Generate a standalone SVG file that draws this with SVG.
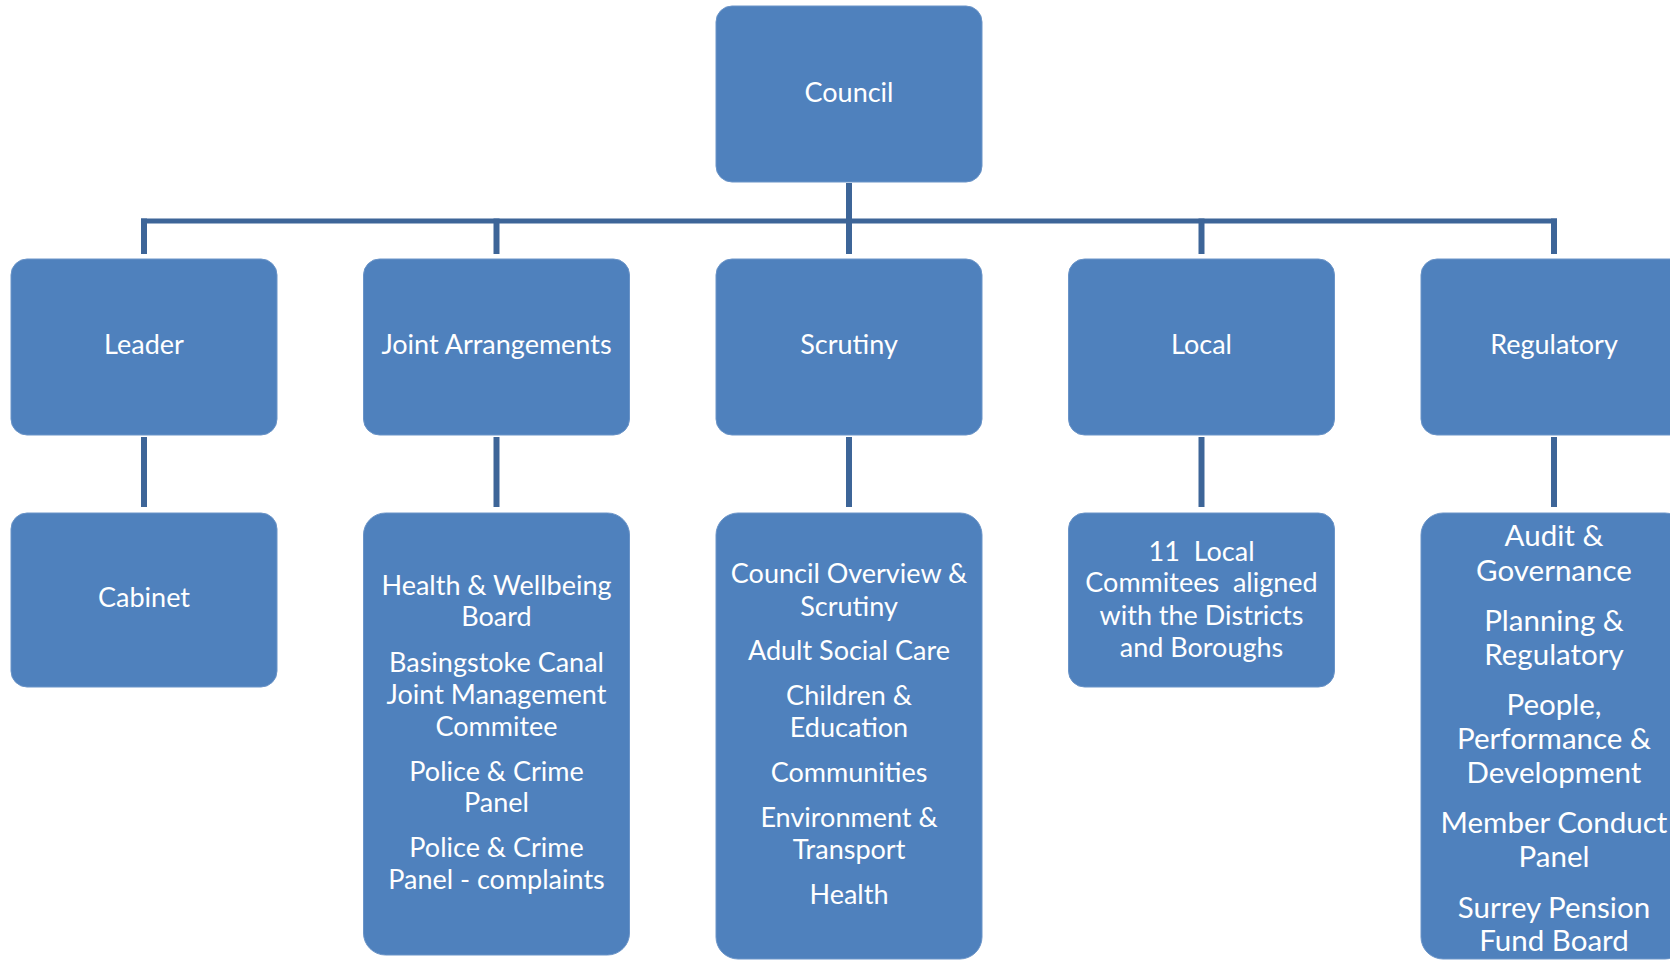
<svg xmlns="http://www.w3.org/2000/svg" width="1670" height="960" viewBox="0 0 1670 960">
  <style>
    .box { fill: #4F81BD; stroke: #6A94C8; stroke-width: 1; }
    .lbl { font-family: Lato, "Open Sans", sans-serif; font-size: 27px; fill: #FFFFFF; text-anchor: middle; white-space: pre; }
    .big { font-size: 29.5px; }
    .wire { stroke: #3D6598; fill: none; }
    .bus { stroke-width: 5; }
    .drop { stroke-width: 6; }
  </style>
  <rect width="1670" height="960" fill="#FFFFFF"/>

  <!-- connectors -->
  <g id="connectors" class="wire">
    <line class="bus" x1="141" y1="221" x2="1557" y2="221"/>
    <line class="drop" x1="849" y1="183" x2="849" y2="254"/>
    <line class="drop" x1="144" y1="218.5" x2="144" y2="254"/>
    <line class="drop" x1="496.5" y1="218.5" x2="496.5" y2="254"/>
    <line class="drop" x1="1201.5" y1="218.5" x2="1201.5" y2="254"/>
    <line class="drop" x1="1554" y1="218.5" x2="1554" y2="254"/>
    <line class="drop" x1="144" y1="437" x2="144" y2="507"/>
    <line class="drop" x1="496.5" y1="437" x2="496.5" y2="507"/>
    <line class="drop" x1="849" y1="437" x2="849" y2="507"/>
    <line class="drop" x1="1201.5" y1="437" x2="1201.5" y2="507"/>
    <line class="drop" x1="1554" y1="437" x2="1554" y2="507"/>
  </g>

  <!-- top -->
  <g id="council">
    <rect class="box" x="716" y="6" width="266" height="176" rx="16"/>
    <text class="lbl" x="849" y="101.5">Council</text>
  </g>

  <!-- second tier -->
  <g id="leader">
    <rect class="box" x="11" y="259" width="266" height="176" rx="16"/>
    <text class="lbl" x="144" y="353.5">Leader</text>
  </g>
  <g id="joint-arrangements">
    <rect class="box" x="363.5" y="259" width="266" height="176" rx="16"/>
    <text class="lbl" x="496.5" y="353.5">Joint Arrangements</text>
  </g>
  <g id="scrutiny">
    <rect class="box" x="716" y="259" width="266" height="176" rx="16"/>
    <text class="lbl" x="849" y="353.5">Scrutiny</text>
  </g>
  <g id="local">
    <rect class="box" x="1068.5" y="259" width="266" height="176" rx="16"/>
    <text class="lbl" x="1201.5" y="353.5">Local</text>
  </g>
  <g id="regulatory">
    <rect class="box" x="1421" y="259" width="266" height="176" rx="16"/>
    <text class="lbl" x="1554" y="353.5">Regulatory</text>
  </g>

  <!-- third tier -->
  <g id="cabinet">
    <rect class="box" x="11" y="513" width="266" height="174" rx="16"/>
    <text class="lbl" x="144" y="607">Cabinet</text>
  </g>
  <g id="joint-committees">
    <rect class="box" x="363.5" y="513" width="266" height="442" rx="22"/>
    <text class="lbl" x="496.5" y="595">Health &amp; Wellbeing</text>
    <text class="lbl" x="496.5" y="626">Board</text>
    <text class="lbl" x="496.5" y="671.5">Basingstoke Canal</text>
    <text class="lbl" x="496.5" y="703.5">Joint Management</text>
    <text class="lbl" x="496.5" y="735.5">Commitee</text>
    <text class="lbl" x="496.5" y="780.5">Police &amp; Crime</text>
    <text class="lbl" x="496.5" y="811.5">Panel</text>
    <text class="lbl" x="496.5" y="857">Police &amp; Crime</text>
    <text class="lbl" x="496.5" y="888.5">Panel - complaints</text>
  </g>
  <g id="scrutiny-committees">
    <rect class="box" x="716" y="513" width="266" height="446" rx="22"/>
    <text class="lbl" x="849" y="583">Council Overview &amp;</text>
    <text class="lbl" x="849" y="615.5">Scrutiny</text>
    <text class="lbl" x="849" y="659.5">Adult Social Care</text>
    <text class="lbl" x="849" y="705">Children &amp;</text>
    <text class="lbl" x="849" y="737">Education</text>
    <text class="lbl" x="849" y="782">Communities</text>
    <text class="lbl" x="849" y="827">Environment &amp;</text>
    <text class="lbl" x="849" y="859">Transport</text>
    <text class="lbl" x="849" y="903.5">Health</text>
  </g>
  <g id="local-committees">
    <rect class="box" x="1068.5" y="513" width="266" height="174" rx="16"/>
    <text class="lbl" x="1201.5" y="560.5">11  Local</text>
    <text class="lbl" x="1201.5" y="591.5">Commitees  aligned</text>
    <text class="lbl" x="1201.5" y="624.5">with the Districts</text>
    <text class="lbl" x="1201.5" y="656.5">and Boroughs</text>
  </g>
  <g id="regulatory-committees">
    <rect class="box" x="1421" y="513" width="266" height="446" rx="22"/>
    <text class="lbl big" x="1554" y="545.5">Audit &amp;</text>
    <text class="lbl big" x="1554" y="581">Governance</text>
    <text class="lbl big" x="1554" y="631">Planning &amp;</text>
    <text class="lbl big" x="1554" y="665">Regulatory</text>
    <text class="lbl big" x="1554" y="714.5">People,</text>
    <text class="lbl big" x="1554" y="749">Performance &amp;</text>
    <text class="lbl big" x="1554" y="783">Development</text>
    <text class="lbl big" x="1554" y="833">Member Conduct</text>
    <text class="lbl big" x="1554" y="867">Panel</text>
    <text class="lbl big" x="1554" y="917.5">Surrey Pension</text>
    <text class="lbl big" x="1554" y="951">Fund Board</text>
  </g>
</svg>
